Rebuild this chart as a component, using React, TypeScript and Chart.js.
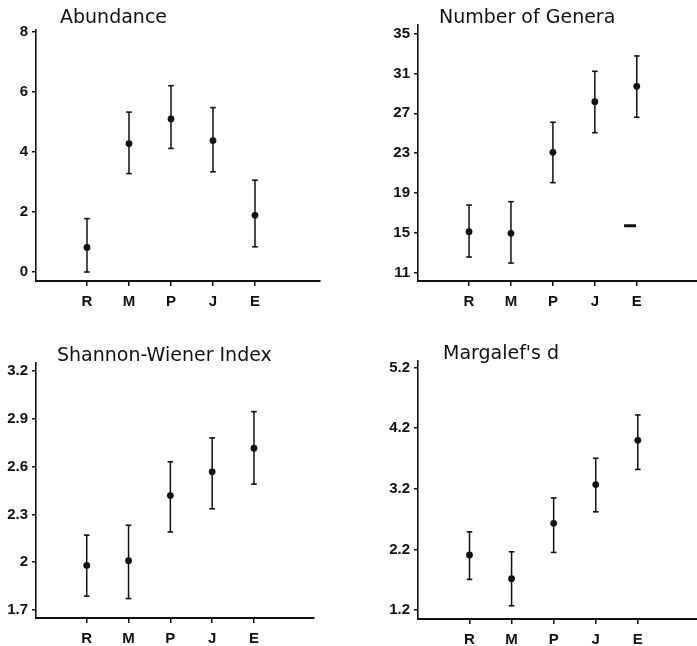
import React, { useEffect, useRef } from 'react';
import { Chart, registerables } from 'chart.js';

Chart.register(...registerables);

// ---------- data ----------
const categories = ['R', 'M', 'P', 'J', 'E'];
const categoryX = [1, 2, 3, 4, 5];

const abundanceMean = [0.82, 4.28, 5.1, 4.38, 1.89];
const abundanceUpper = [1.78, 5.33, 6.21, 5.48, 3.06];
const abundanceLower = [0.0, 3.28, 4.12, 3.34, 0.84];
const abundanceTicks = [0, 2, 4, 6, 8];

const generaMean = [15.1, 14.94, 23.08, 28.17, 29.71];
const generaUpper = [17.78, 18.12, 26.1, 31.22, 32.76];
const generaLower = [12.56, 11.95, 20.03, 25.05, 26.6];
const generaTicks = [11, 15, 19, 23, 27, 31, 35];
const generaStrayMarkX = [4.84];
const generaStrayMarkY = [15.7];

const shannonMean = [1.98, 2.01, 2.418, 2.567, 2.715];
const shannonUpper = [2.17, 2.232, 2.63, 2.78, 2.945];
const shannonLower = [1.787, 1.772, 2.19, 2.335, 2.49];
const shannonTicks = [1.7, 2, 2.3, 2.6, 2.9, 3.2];

const margalefMean = [2.108, 1.716, 2.63, 3.27, 4.0];
const margalefUpper = [2.49, 2.16, 3.05, 3.705, 4.42];
const margalefLower = [1.705, 1.27, 2.15, 2.82, 3.52];
const margalefTicks = [1.2, 2.2, 3.2, 4.2, 5.2];

// ---------- panel definitions ----------
type Panel = {
  title: string;
  mean: number[];
  upper: number[];
  lower: number[];
  yTicks: number[];
  strayX?: number[];
  strayY?: number[];
};

const panels: Panel[] = [
  { title: 'Abundance', mean: abundanceMean, upper: abundanceUpper, lower: abundanceLower, yTicks: abundanceTicks },
  { title: 'Number of Genera', mean: generaMean, upper: generaUpper, lower: generaLower, yTicks: generaTicks, strayX: generaStrayMarkX, strayY: generaStrayMarkY },
  { title: 'Shannon-Wiener Index', mean: shannonMean, upper: shannonUpper, lower: shannonLower, yTicks: shannonTicks },
  { title: "Margalef's d", mean: margalefMean, upper: margalefUpper, lower: margalefLower, yTicks: margalefTicks },
];

// layout / style (positions, sizes)
const layouts = [
  { left: 0, top: 0, w: 348, h: 320, cl: 36, cr: 320, ct: 30, cb: 281, yMin: -0.3, yMax: 8.067, xMin: -0.214, xMax: 6.548, dx: 24, base: 23 },
  { left: 348, top: 0, w: 372, h: 320, cl: 70, cr: 350, ct: 25, cb: 281, yMin: 10.15, yMax: 35.87, xMin: -0.217, xMax: 6.46, dx: 21, base: 23 },
  { left: 0, top: 320, w: 348, h: 326, cl: 36, cr: 314, ct: 43, cb: 298, yMin: 1.65, yMax: 3.25, xMin: -0.213, xMax: 6.435, dx: 21, base: 40.5 },
  { left: 348, top: 320, w: 372, h: 326, cl: 70, cr: 350, ct: 41, cb: 299, yMin: 1.051, yMax: 5.31, xMin: -0.224, xMax: 6.43, dx: 25, base: 38.5 },
];

const INK = '#111';
const tickFont = { family: '"Liberation Sans", Arial, sans-serif', size: 15, weight: 'bold' as const };

const panelTitlePlugin = {
  id: 'panelTitle',
  afterDraw(chart: any, _args: any, opts: any) {
    const ctx = chart.ctx;
    ctx.save();
    ctx.font = '19px "DejaVu Sans", sans-serif';
    ctx.fillStyle = INK;
    ctx.textBaseline = 'alphabetic';
    ctx.textAlign = 'left';
    ctx.fillText(opts.text, chart.chartArea.left + opts.dx, opts.base);
    ctx.restore();
  },
};

function PanelChart({ panel, lay }: { panel: Panel; lay: typeof layouts[number] }) {
  const ref = useRef<HTMLCanvasElement | null>(null);

  useEffect(() => {
    if (!ref.current) return;

    const means = categoryX.map((x, i) => ({ x, y: panel.mean[i] }));
    const caps: { x: number; y: number }[] = [];
    const bars: { x: number; y: number | null }[] = [];
    categoryX.forEach((x, i) => {
      caps.push({ x, y: panel.lower[i] }, { x, y: panel.upper[i] });
      bars.push({ x, y: panel.lower[i] }, { x, y: panel.upper[i] }, { x, y: null });
    });

    const datasets: any[] = [
      {
        type: 'scatter',
        data: means,
        pointStyle: 'circle',
        pointRadius: 3.4,
        backgroundColor: INK,
        borderColor: INK,
        borderWidth: 0,
      },
      {
        type: 'scatter',
        data: caps,
        pointStyle: 'line',
        pointRadius: 2.8,
        borderColor: INK,
        borderWidth: 1.6,
      },
      {
        type: 'line',
        data: bars,
        showLine: true,
        spanGaps: false,
        pointRadius: 0,
        borderColor: INK,
        borderWidth: 1.5,
        fill: false,
      },
    ];
    if (panel.strayX && panel.strayY) {
      datasets.push({
        type: 'scatter',
        data: panel.strayX.map((x, i) => ({ x, y: panel.strayY![i] })),
        pointStyle: 'line',
        pointRadius: 6,
        borderColor: INK,
        borderWidth: 3,
      });
    }

    const chart = new Chart(ref.current, {
      type: 'scatter',
      data: { datasets },
      plugins: [panelTitlePlugin],
      options: {
        animation: false,
        responsive: false,
        devicePixelRatio: 1,
        layout: { padding: { top: lay.ct, right: lay.w - lay.cr, left: 0, bottom: 0 } },
        plugins: {
          legend: { display: false },
          tooltip: { enabled: false },
          title: { display: false },
          panelTitle: { text: panel.title, dx: lay.dx, base: lay.base },
        } as any,
        scales: {
          x: {
            type: 'linear',
            min: lay.xMin,
            max: lay.xMax,
            afterBuildTicks: (s: any) => {
              s.ticks = categoryX.map((v) => ({ value: v }));
            },
            afterFit: (s: any) => {
              s.height = lay.h - lay.cb;
            },
            ticks: {
              autoSkip: false,
              maxRotation: 0,
              padding: 7,
              color: INK,
              font: tickFont,
              callback: (_v: any, i: number) => categories[i],
            },
            grid: { drawOnChartArea: false, drawTicks: true, tickLength: 5, color: INK, lineWidth: 1.5 },
            border: { display: true, color: INK, width: 2 },
          },
          y: {
            type: 'linear',
            min: lay.yMin,
            max: lay.yMax,
            afterBuildTicks: (s: any) => {
              s.ticks = panel.yTicks.map((v) => ({ value: v }));
            },
            afterFit: (s: any) => {
              s.width = lay.cl;
            },
            ticks: {
              autoSkip: false,
              padding: 4,
              color: INK,
              font: tickFont,
              callback: (v: any) => String(v),
            },
            grid: { drawOnChartArea: false, drawTicks: true, tickLength: 4, color: INK, lineWidth: 1.5 },
            border: { display: true, color: INK, width: 1.6 },
          },
        },
      } as any,
    });

    return () => chart.destroy();
  }, [panel, lay]);

  return (
    <div style={{ position: 'absolute', left: lay.left, top: lay.top, width: lay.w, height: lay.h }}>
      <canvas ref={ref} width={lay.w} height={lay.h} style={{ width: lay.w, height: lay.h, display: 'block' }} />
    </div>
  );
}

export default function App() {
  return (
    <div style={{ position: 'absolute', left: 0, top: 0, width: 697, height: 646, background: '#fff', overflow: 'hidden' }}>
      {panels.map((p, i) => (
        <PanelChart key={i} panel={p} lay={layouts[i]} />
      ))}
    </div>
  );
}
